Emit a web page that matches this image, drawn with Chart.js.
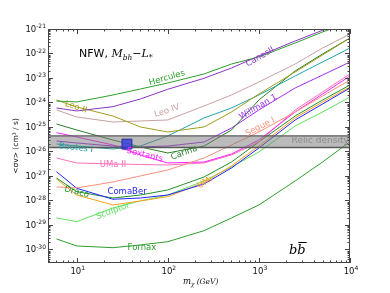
<!DOCTYPE html>
<html>
<head>
<meta charset="utf-8">
<script src="https://cdn.jsdelivr.net/npm/chart.js@4.4.0/dist/chart.umd.min.js"></script>
<style>
  html, body { margin: 0; padding: 0; background: #fff; }
</style>
</head>
<body>
<canvas id="c" width="390" height="293"></canvas>
<script>
// dark matter mass (GeV) where every limit curve was read
const masses = [6, 10, 25, 50, 100, 250, 500, 1000, 2500, 5000, 10000];

// <sigma v> upper limits, cm^3/s
const hercules = [1.15e-24, 1.05e-24, 2.02e-24, 3.56e-24, 6.25e-24, 1.46e-23, 3.72e-23, 7.2e-23, 2.69e-22, 7.55e-22, 1.93e-21];
const canesII  = [5.97e-25, 4.5e-25, 6.75e-25, 1.39e-24, 3.46e-24, 9.73e-24, 2.56e-23, 7.9e-23, 3.24e-22, 8.85e-22, 2.33e-21];
const leoII    = [1.26e-24, 6.55e-25, 2.81e-25, 1.0e-25, 6.25e-26, 1.0e-25, 4.09e-25, 2.22e-24, 1.76e-23, 8.69e-23, 4.3e-22];
const leoIV    = [4.94e-25, 2.56e-25, 1.6e-25, 1.76e-25, 1.93e-25, 7.2e-25, 2.02e-24, 6.87e-24, 3.72e-23, 1.67e-22, 6.25e-22];
const bootesI  = [2.02e-26, 1.67e-26, 1.26e-26, 1.67e-26, 4.3e-26, 2.33e-25, 5.97e-25, 2.02e-24, 1.21e-23, 4.5e-23, 1.67e-22];
const carina   = [1.32e-25, 7.55e-26, 2.94e-26, 1.53e-26, 8.69e-27, 1.67e-26, 7.55e-26, 1.26e-24, 1.93e-23, 9.55e-23, 4.3e-22];
const willman1 = [2.69e-26, 2.22e-26, 1.67e-26, 1.53e-26, 1.67e-26, 2.44e-26, 9.1e-26, 4.94e-25, 3.91e-24, 1.32e-23, 4.5e-23];
const segueI   = [3.56e-28, 3.24e-28, 5.69e-28, 1.0e-27, 1.76e-27, 5.43e-27, 1.84e-26, 6.25e-26, 4.09e-25, 1.84e-24, 8.28e-24];
const sextans  = [5.85e-26, 3.91e-26, 1.84e-26, 7.2e-27, 3.4e-27, 3.72e-27, 7.9e-27, 2.94e-26, 4.09e-25, 2.22e-24, 1.21e-23];
const umaII    = [5.43e-27, 3.4e-27, 3.09e-27, 2.94e-27, 2.81e-27, 3.4e-27, 7.2e-27, 2.44e-26, 4.94e-25, 2.69e-24, 1.46e-23];
const comaBer  = [1.5e-27, 3.15e-28, 1.12e-28, 1.26e-28, 1.67e-28, 4.71e-28, 2.12e-27, 1.39e-26, 1.93e-25, 8.69e-25, 3.91e-24];
const draco    = [8.28e-28, 2.29e-28, 1.26e-28, 1.67e-28, 2.69e-28, 9.1e-28, 3.72e-27, 2.44e-26, 2.81e-25, 1.26e-24, 5.18e-24];
const umi      = [7.55e-28, 1.67e-28, 6.55e-29, 9.55e-29, 1.43e-28, 5.43e-28, 2.56e-27, 1.67e-26, 2.33e-25, 1.05e-24, 4.3e-24];
const sculptor = [1.93e-29, 1.36e-29, 4.94e-29, 9.55e-29, 1.67e-28, 6.25e-28, 2.33e-27, 9.55e-27, 1.1e-25, 4.09e-25, 1.67e-24];
const fornax   = [2.69e-30, 1.39e-30, 1.18e-30, 1.53e-30, 2.08e-30, 5.85e-30, 1.93e-29, 6.55e-29, 6.25e-28, 3.72e-27, 2.51e-26];

// thermal relic band and the GC excess box
const relicTop = 4.3e-26, relicBottom = 1.45e-26;
const gcMass = 35.6, gcSigma = 2.0e-26;

// axes
const xMin = 4.84, xMax = 1e4;
const yMin = 2.8e-31, yMax = 1e-21;
const xTickExps = [1, 2, 3, 4];
const yTickExps = [-21, -22, -23, -24, -25, -26, -27, -28, -29, -30];

const series = [
  ['Hercules', hercules, '#2ca02c'],
  ['CanesII', canesII, '#8a34c8'],
  ['Leo II', leoII, '#a39c1c'],
  ['Leo IV', leoIV, '#c9a0a0'],
  ['Bootes I', bootesI, '#22a3a8'],
  ['Carina', carina, '#2a7f2a'],
  ['Willman 1', willman1, '#a02ef0'],
  ['Segue I', segueI, '#f8907c'],
  ['Sextans', sextans, '#ff22ff'],
  ['UMa II', umaII, '#ff70b8'],
  ['ComaBer', comaBer, '#2424ff'],
  ['Draco', draco, '#23902a'],
  ['UMi', umi, '#ffa01e'],
  ['Sculptor', sculptor, '#5ee05e'],
  ['Fornax', fornax, '#2e9e2e']
];

// curve names written on the plot: [text, mass, sigma, angle deg, colour]
const curveLabels = [
  ['Hercules', 98, 1.0e-23, -16, '#2ca02c'],
  ['CanesII', 1030, 7.2e-23, -30, '#8a34c8'],
  ['Leo II', 9.8, 6.5e-25, 18, '#a39c1c'],
  ['Leo IV', 98, 4.5e-25, -18, '#c9a0a0'],
  ['Willman 1', 980, 6.5e-25, -30, '#a02ef0'],
  ['Segue I', 1030, 1.0e-25, -27, '#f8907c'],
  ['Bootes I', 9.8, 1.4e-26, 6, '#22a3a8'],
  ['Sextants', 56, 7.2e-27, 14, '#ff22ff'],
  ['Carina', 151, 8.7e-27, -20, '#2a7f2a'],
  ['UMa II', 25, 2.9e-27, 0, '#ff70b8'],
  ['Draco', 10, 2.2e-28, 15, '#23902a'],
  ['ComaBer', 35.7, 2.2e-28, 0, '#2424ff'],
  ['Sculptor', 25, 3.7e-29, -20, '#5ee05e'],
  ['UMi', 256, 5.4e-28, -30, '#ffa01e'],
  ['Fornax', 52, 1.15e-30, 0, '#2e9e2e']
];
const relicLabel = ['Relic density', 9700, 2.69e-26, '#8c8c8c'];

const pts = arr => masses.map((m, i) => ({ x: m, y: arr[i] }));

const datasets = [
  {
    label: 'GC', data: [{ x: gcMass, y: gcSigma }], showLine: false,
    pointStyle: 'rect', pointRadius: 7, backgroundColor: 'rgba(55,65,225,0.85)',
    borderColor: '#2a2a9a', borderWidth: 1
  },
  {
    label: 'relic top', data: [{ x: xMin, y: relicTop }, { x: xMax, y: relicTop }],
    borderColor: '#5a5a5a', borderWidth: 1.3, pointRadius: 0, fill: false
  },
  {
    label: 'relic bottom', data: [{ x: xMin, y: relicBottom }, { x: xMax, y: relicBottom }],
    borderColor: '#5a5a5a', borderWidth: 1.3, pointRadius: 0,
    fill: '-1', backgroundColor: 'rgba(120,120,120,0.5)'
  }
].concat(series.map(([name, arr, col]) => ({
  label: name, data: pts(arr), borderColor: col, borderWidth: 1,
  pointRadius: 0, fill: false, tension: 0
})));

const supLabel = (ctx, x, y, exp, align, big, small) => {
  ctx.font = big + 'px "DejaVu Sans"';
  const w1 = ctx.measureText('10').width;
  ctx.font = small + 'px "DejaVu Sans"';
  const w2 = ctx.measureText(exp).width;
  const left = align === 'right' ? x - w1 - w2 : x - (w1 + w2) / 2;
  ctx.textAlign = 'left';
  ctx.textBaseline = 'alphabetic';
  ctx.font = big + 'px "DejaVu Sans"';
  ctx.fillText('10', left, y);
  ctx.font = small + 'px "DejaVu Sans"';
  ctx.fillText(exp, left + w1, y - big * 0.45);
};

const framePlugin = {
  id: 'frame',
  afterDatasetsDraw(chart) {
    const { ctx, chartArea: a, scales: { x, y } } = chart;
    ctx.save();

    // curve labels
    curveLabels.forEach(([t, m, v, ang, col]) => {
      ctx.save();
      ctx.translate(x.getPixelForValue(m), y.getPixelForValue(v));
      ctx.rotate(ang * Math.PI / 180);
      ctx.font = '8.5px "DejaVu Sans"';
      ctx.fillStyle = col;
      ctx.textAlign = 'center';
      ctx.textBaseline = 'middle';
      ctx.fillText(t, 0, 0);
      ctx.restore();
    });
    ctx.font = '9px "DejaVu Sans"';
    ctx.fillStyle = relicLabel[3];
    ctx.textAlign = 'right';
    ctx.textBaseline = 'middle';
    ctx.fillText(relicLabel[0], x.getPixelForValue(relicLabel[1]), y.getPixelForValue(relicLabel[2]));

    // frame and inward ticks
    ctx.strokeStyle = '#444';
    ctx.lineWidth = 1;
    ctx.strokeRect(a.left + 0.5, a.top + 0.5, a.right - a.left - 1, a.bottom - a.top - 1);
    const seg = (x1, y1, x2, y2) => { ctx.beginPath(); ctx.moveTo(x1, y1); ctx.lineTo(x2, y2); ctx.stroke(); };
    for (let k = -31; k <= -21; k++) {
      for (let m = 1; m < 10; m++) {
        const v = m * Math.pow(10, k);
        if (v < yMin * 0.999 || v > yMax * 1.001) continue;
        const py = Math.round(y.getPixelForValue(v)) + 0.5;
        const len = m === 1 ? 5 : 2.5;
        seg(a.left, py, a.left + len, py);
        seg(a.right, py, a.right - len, py);
      }
    }
    for (let k = 0; k <= 4; k++) {
      for (let m = 1; m < 10; m++) {
        const v = m * Math.pow(10, k);
        if (v < xMin || v > xMax * 1.001) continue;
        const px = Math.round(x.getPixelForValue(v)) + 0.5;
        const len = m === 1 ? 5 : 2.5;
        seg(px, a.bottom, px, a.bottom - len);
        seg(px, a.top, px, a.top + len);
      }
    }

    // tick labels
    ctx.fillStyle = '#111';
    yTickExps.forEach(e => {
      supLabel(ctx, a.left - 2, y.getPixelForValue(Math.pow(10, e)) + 3, String(e), 'right', 8.5, 6);
    });
    xTickExps.forEach(e => {
      supLabel(ctx, x.getPixelForValue(Math.pow(10, e)) + 1, a.bottom + 11, String(e), 'center', 8.5, 6);
    });

    // axis titles
    ctx.save();
    ctx.translate(16, (a.top + a.bottom) / 2);
    ctx.rotate(-Math.PI / 2);
    ctx.font = '7.5px "DejaVu Sans"';
    ctx.textAlign = 'center';
    ctx.textBaseline = 'middle';
    ctx.fillText('<σv> (cm³ / s)', 0, 0);
    ctx.restore();

    ctx.textBaseline = 'alphabetic';
    ctx.textAlign = 'left';
    let tx = 183;
    ctx.font = 'italic 8.5px "DejaVu Serif"';
    ctx.fillText('m', tx, 284); tx += ctx.measureText('m').width;
    ctx.font = 'italic 6px "DejaVu Serif"';
    ctx.fillText('χ', tx, 286); tx += ctx.measureText('χ').width + 2;
    ctx.font = 'italic 7.5px "DejaVu Serif"';
    ctx.fillText('(GeV)', tx, 284);

    // model tag
    let nx = 79;
    ctx.font = '11px "DejaVu Sans"';
    ctx.fillStyle = '#000';
    ctx.fillText('NFW, ', nx, 57); nx += ctx.measureText('NFW, ').width;
    ctx.font = 'italic 11px "DejaVu Serif"';
    ctx.fillText('M', nx, 57); nx += ctx.measureText('M').width;
    ctx.font = 'italic 7.5px "DejaVu Serif"';
    ctx.fillText('bh', nx, 60); nx += ctx.measureText('bh').width;
    ctx.font = '11px "DejaVu Serif"';
    ctx.fillText('\u2212', nx, 57); nx += ctx.measureText('\u2212').width;
    ctx.font = 'italic 11px "DejaVu Serif"';
    ctx.fillText('L', nx, 57); nx += ctx.measureText('L').width;
    ctx.font = '8px "DejaVu Serif"';
    ctx.fillText('*', nx, 60);

    // channel tag b b-bar
    ctx.font = 'italic 13px "DejaVu Serif"';
    const bx = 289, by = 254;
    ctx.fillText('b', bx, by);
    const bw = ctx.measureText('b').width;
    ctx.fillText('b', bx + bw, by);
    ctx.lineWidth = 1;
    ctx.strokeStyle = '#000';
    seg(bx + bw + 1, by - 11.5, bx + 2 * bw + 1, by - 11.5);

    ctx.restore();
  }
};

new Chart(document.getElementById('c'), {
  type: 'line',
  data: { datasets },
  options: {
    responsive: false,
    animation: false,
    devicePixelRatio: 1,
    layout: { padding: { left: 48, right: 40, top: 29, bottom: 30 } },
    plugins: { legend: { display: false }, tooltip: { enabled: false } },
    scales: {
      x: { type: 'logarithmic', min: xMin, max: xMax, display: false },
      y: { type: 'logarithmic', min: yMin, max: yMax, display: false }
    }
  },
  plugins: [framePlugin]
});
</script>
</body>
</html>
